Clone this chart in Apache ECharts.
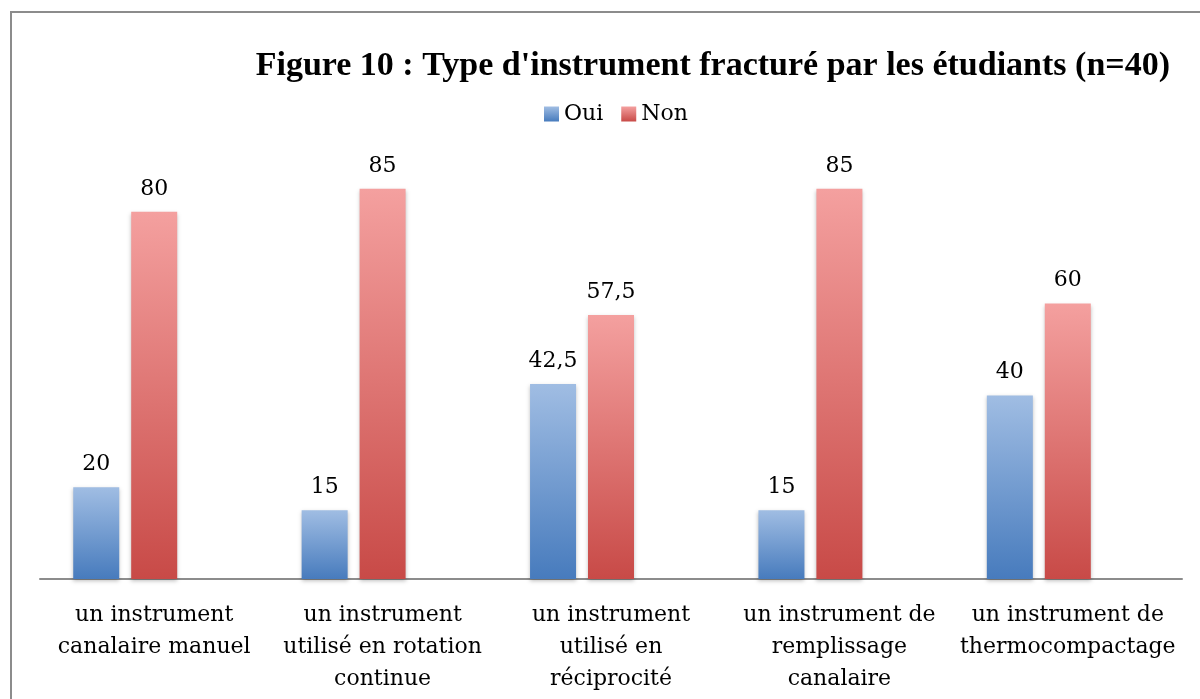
<!DOCTYPE html>
<html>
<head>
<meta charset="utf-8">
<script src="https://cdn.jsdelivr.net/npm/echarts@6/dist/echarts.min.js"></script>
<style>
html, body { margin: 0; padding: 0; background: #fff; }
#chart { width: 1200px; height: 699px; }
</style>
</head>
<body>
<div id="chart"></div>
<script>
var categories = [
	'un instrument\ncanalaire manuel',
	'un instrument\nutilisé en rotation\ncontinue',
	'un instrument\nutilisé en\nréciprocité',
	'un instrument de\nremplissage\ncanalaire',
	'un instrument de\nthermocompactage'
];
var oui = [20, 15, 42.5, 15, 40];
var non = [80, 85, 57.5, 85, 60];
var empty = [null, null, null, null, null];

(function(){
	var myChart = echarts.init(document.getElementById('chart'));
	var serif = '"DejaVu Serif", serif';

	function grad(top, bottom) {
		return new echarts.graphic.LinearGradient(0, 0, 0, 1, [
			{offset: 0, color: top},
			{offset: 1, color: bottom}
		]);
	}

	var labelStyle = {
		show: true,
		position: 'top',
		distance: 12,
		color: '#000',
		fontFamily: serif,
		fontSize: 22,
		formatter: function (p) {
			return String(p.value).replace('.', ',');
		}
	};

	var option = {
		animation: false,
		graphic: [{
			type: 'rect',
			shape: {x: 11, y: 12, width: 1300, height: 800},
			style: {fill: 'none', stroke: '#8c8c8c', lineWidth: 2}
		}],
		title: {
			text: "Figure 10 : Type d'instrument fracturé par les étudiants (n=40)",
			right: 25,
			top: 44,
			textStyle: {
				fontFamily: '"Liberation Serif", serif',
				fontWeight: 'bold',
				fontSize: 34,
				color: '#000'
			}
		},
		legend: {
			data: ['Oui', 'Non'],
			icon: 'rect',
			left: 539,
			top: 98,
			itemWidth: 15,
			itemHeight: 15,
			itemGap: 18,
			textStyle: {fontFamily: serif, fontSize: 22, color: '#000'}
		},
		grid: {
			left: 40,
			right: 18,
			top: 120,
			bottom: 120
		},
		xAxis: {
			type: 'category',
			data: categories,
			axisLine: {lineStyle: {color: '#8c8c8c', width: 2}},
			axisTick: {show: false},
			axisLabel: {
				interval: 0,
				margin: 20,
				color: '#000',
				fontFamily: serif,
				fontSize: 22,
				lineHeight: 32,
				verticalAlign: 'top'
			}
		},
		yAxis: {
			type: 'value',
			min: 0,
			max: 100,
			show: false,
			splitLine: {show: false}
		},
		series: [
			{
				name: 'Oui',
				type: 'bar',
				barWidth: 46,
				barGap: '26%',
				data: oui,
				label: labelStyle,
				itemStyle: {
					color: grad('#a0bde3', '#477bbd'),
					shadowColor: 'rgba(0,0,0,0.25)',
					shadowBlur: 4,
					shadowOffsetY: 2
				}
			},
			{
				name: 'Non',
				type: 'bar',
				barWidth: 46,
				barGap: '26%',
				data: non,
				label: labelStyle,
				itemStyle: {
					color: grad('#f4a09f', '#c84a47'),
					shadowColor: 'rgba(0,0,0,0.25)',
					shadowBlur: 4,
					shadowOffsetY: 2
				}
			},
			{
				name: 'spacer',
				type: 'bar',
				barWidth: 46,
				barGap: '26%',
				data: empty
			}
		]
	};

	myChart.setOption(option);
})();
</script>
</body>
</html>
